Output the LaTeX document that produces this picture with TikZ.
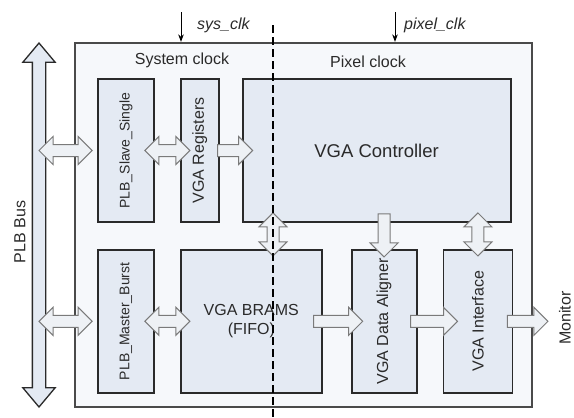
\documentclass[tikz,border=0pt]{standalone}
\usepackage{fontspec}
\setmainfont{Liberation Sans}
\usetikzlibrary{arrows.meta,positioning,calc,shapes.arrows}

\definecolor{boxfill}{HTML}{E4EAF3}
\definecolor{corefill}{HTML}{F6F8FB}
\definecolor{arrfill}{HTML}{EEF1F5}
\definecolor{arrline}{HTML}{7A7A7A}
\definecolor{ink}{HTML}{2A2A2A}

\newcommand{\blkarrow}[6]{%
  \path let \p1=($(#3)!#5!(#4)$), \p2=($(#4)!#6!(#3)$), \p3=($(\p2)-(\p1)$),
            \n1={veclen(\x3,\y3)}, \n2={atan2(\y3,\x3)} in
    node[#1, minimum height=\n1, rotate=\n2] (#2) at ($(\p1)!0.5!(\p2)$) {};}

\begin{document}
\begin{tikzpicture}[
    x=1pt, y=-1pt,
    >=Stealth,
    node distance=25pt and 25pt,
    every node/.style={text=ink},
    core/.style={draw=ink!85, line width=1.3pt, fill=corefill, minimum width=457pt, minimum height=364pt},
    block/.style={draw=ink, line width=1.8pt, fill=boxfill, align=center, minimum height=143pt, inner sep=0pt, font=\fontsize{16}{19}\selectfont},
    smallfont/.style={font=\fontsize{14}{17}\selectfont},
    label16/.style={font=\fontsize{16}{19}\selectfont, inner sep=3pt},
    clklabel/.style={font=\fontsize{16}{19}\selectfont\itshape, inner sep=2pt, anchor=west},
    busarrow/.style={double arrow, draw=ink, fill=boxfill, line width=1.3pt, inner sep=6pt, double arrow head extend=9.5pt, double arrow tip angle=80},
    sarr/.style={single arrow, draw=arrline, fill=arrfill, line width=1pt, inner sep=5.5pt, single arrow head extend=8pt, single arrow tip angle=90},
    darr/.style={double arrow, draw=arrline, fill=arrfill, line width=1pt, inner sep=5.5pt, double arrow head extend=8pt, double arrow tip angle=90},
    clkarrow/.style={->, line width=1pt, black, shorten >=0.5pt},
    splitline/.style={black, line width=1.3pt, dash pattern=on 8pt off 4pt}
]
\useasboundingbox (0,0) rectangle (574,418);

\node[core] (core) at (303.5,225) {};
\node[label16] (sysdom) at (182,60) {System clock};
\node[label16] (pixdom) at (368,62) {Pixel clock};

\node[busarrow, minimum height=364pt, rotate=90] (bus) at (39,225) {};
\node[label16, rotate=90] (buslbl) at (20,232) {PLB Bus};

\node[block, smallfont, minimum width=56pt] (slave) at (126,150.5) {\rotatebox{90}{PLB\_Slave\_Single}};
\node[block, minimum width=38pt, right=of slave] (regs) {\rotatebox{90}{VGA Registers}};
\node[block, minimum width=268pt, right=22pt of regs, font=\fontsize{18.5}{22}\selectfont] (ctrl) {VGA Controller};
\node[block, smallfont, minimum width=56pt, below=26pt of slave] (master) {\rotatebox{90}{PLB\_Master\_Burst}};
\node[block, minimum width=141pt, right=of master] (brams) {VGA BRAMS\\(FIFO)};
\node[block, minimum width=65pt, right=28pt of brams] (aligner) {\rotatebox{90}{VGA Data Aligner}};
\node[block, minimum width=69pt, right=of aligner] (interface) {\rotatebox{90}{VGA Interface}};
\node[label16, rotate=90, inner sep=1pt] (monitor) at (565,318) {Monitor};

\coordinate (split) at (273,25);
\coordinate (splitend) at (273,418);
\coordinate (sysclk) at (181,12);
\coordinate (pixclk) at (395,12);

\blkarrow{darr}{busslave}{bus |- slave}{slave.west}{0pt}{5pt}
\blkarrow{darr}{slaveregs}{slave.east}{regs.west}{-10pt}{-10pt}
\blkarrow{sarr}{regsctrl}{regs.east}{ctrl.west}{-5pt}{-8pt}
\blkarrow{darr}{busmaster}{bus |- master}{master.west}{0pt}{5pt}
\blkarrow{darr}{masterbrams}{master.east}{brams.west}{-10pt}{-10pt}
\blkarrow{darr}{ctrlbrams}{split |- ctrl.south}{split |- brams.north}{-10pt}{-7pt}
\blkarrow{sarr}{ctrlaligner}{aligner |- ctrl.south}{aligner.north}{-12pt}{-5pt}
\blkarrow{darr}{ctrliface}{interface |- ctrl.south}{interface.north}{-10pt}{-7pt}
\blkarrow{sarr}{bramsaligner}{brams.east}{aligner.west}{-12pt}{-9pt}
\blkarrow{sarr}{alignerface}{aligner.east}{interface.west}{-10pt}{-12pt}
\blkarrow{sarr}{ifacemonitor}{interface.east}{interface.east -| monitor.north}{-9pt}{13pt}

\draw[clkarrow] (sysclk) -- (sysclk |- core.north);
\draw[clkarrow] (pixclk) -- (pixclk |- core.north);
\node[clklabel] (sysclklbl) at (195,25) {sys\_clk};
\node[clklabel] (pixclklbl) at (402,25) {pixel\_clk};

\draw[splitline] (split) -- (splitend);
\end{tikzpicture}
\end{document}
